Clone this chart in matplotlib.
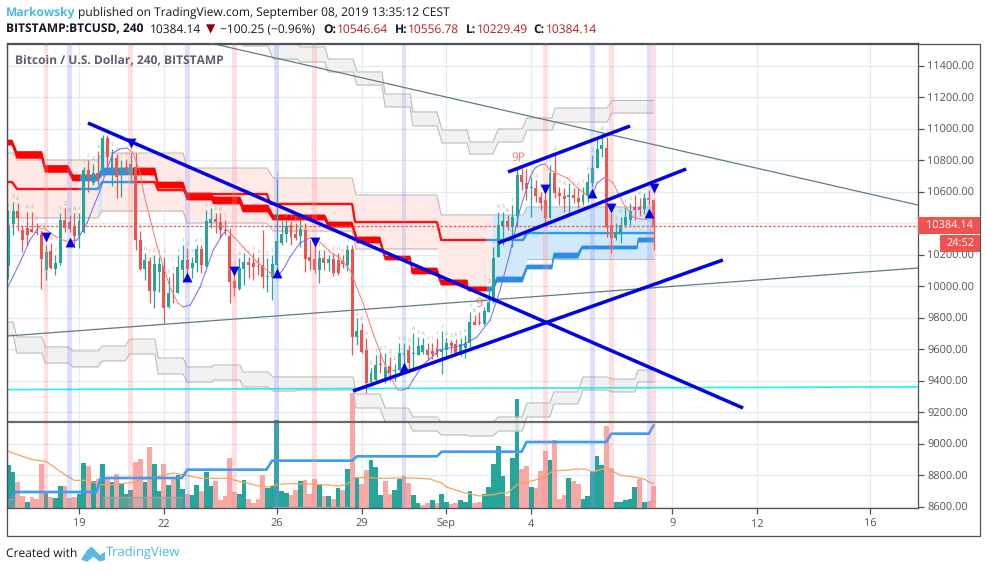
"""BTCUSD 4h TradingView snapshot redrawn with matplotlib."""

import matplotlib

matplotlib.use("Agg")
import matplotlib.pyplot as plt  # noqa: E402
import numpy as np  # noqa: E402
from matplotlib.patches import Polygon, Rectangle  # noqa: E402

WIDTH, HEIGHT = 987, 572

# candles: one 4h bar each, bar 0 is Aug 19 00:00
first_bar = -15
opens = [
    10130, 10397, 10482, 10359, 10370, 10363, 10348, 10334, 10105, 10225,
    10109, 10147, 10422, 10408, 10384, 10321, 10348, 10739, 10655, 10718,
    10718, 10940, 10739, 10813, 10707, 10760, 10707, 10760, 10295, 10109,
    10164, 9972, 10094, 10130, 9868, 9967, 9957, 10105, 10168, 10115,
    10147, 10236, 10130, 10401, 10429, 10408, 10359, 10321, 10037, 9984,
    10111, 10154, 10147, 10130, 10137, 10060, 10058, 10137, 10274, 10334,
    10391, 10334, 10321, 10359, 10190, 10175, 10105, 10181, 10152, 10175,
    10168, 10164, 10137, 10236, 9677, 9724, 9597, 9395, 9405, 9508,
    9410, 9497, 9460, 9470, 9565, 9597, 9570, 9565, 9586, 9597,
    9590, 9607, 9585, 9597, 9639, 9633, 9580, 9610, 9643, 9772,
    9775, 9762, 9840, 9904, 10190, 10385, 10416, 10380, 10448, 10708,
    10655, 10624, 10628, 10571, 10549, 10433, 10719, 10592, 10575, 10570,
    10579, 10564, 10539, 10575, 10660, 10750, 10871, 10878, 10391, 10306,
    10338, 10391, 10422, 10507, 10507, 10490, 10564, 10546,
]
highs = [
    10486, 10539, 10528, 10391, 10475, 10475, 10401, 10359, 10264, 10274,
    10200, 10465, 10497, 10454, 10465, 10465, 10760, 10800, 10780, 10860,
    10961, 10961, 10870, 10840, 10800, 10810, 10845, 10850, 10353, 10211,
    10190, 10200, 10190, 10190, 10063, 10084, 10200, 10264, 10243, 10190,
    10264, 10264, 10486, 10497, 10465, 10465, 10422, 10370, 10115, 10179,
    10211, 10190, 10211, 10190, 10359, 10179, 10200, 10680, 10422, 10422,
    10415, 10401, 10422, 10401, 10295, 10274, 10232, 10232, 10200, 10211,
    10211, 10200, 10264, 10264, 9798, 9766, 9670, 9480, 9565, 9575,
    9580, 9555, 9510, 9640, 9640, 9629, 9703, 9680, 9670, 9640,
    9640, 9670, 9716, 9670, 9660, 9665, 9670, 9690, 9840, 9820,
    9840, 9872, 9999, 10253, 10475, 10475, 10454, 10518, 10750, 10750,
    10744, 10698, 10676, 10602, 10592, 10772, 10846, 10634, 10624, 10655,
    10624, 10624, 10634, 10719, 10835, 10941, 10973, 10947, 10465, 10401,
    10444, 10507, 10528, 10581, 10560, 10592, 10613, 10557,
]
lows = [
    10046, 10327, 10350, 10221, 10264, 10348, 10327, 9982, 10041, 10109,
    10073, 10137, 10348, 10348, 10253, 10243, 10340, 10600, 10644, 10650,
    10700, 10750, 10635, 10559, 10570, 10720, 10655, 10230, 10105, 10041,
    9893, 9861, 9967, 9766, 9861, 9893, 9957, 10031, 10052, 10052,
    10094, 10084, 10126, 10370, 10338, 10306, 10325, 9893, 9940, 9978,
    10010, 10052, 10041, 10073, 9988, 9967, 9914, 10084, 10264, 10285,
    10264, 10295, 10253, 10094, 10105, 10084, 10024, 10105, 10100, 10067,
    10070, 10120, 10100, 9565, 9629, 9575, 9321, 9370, 9385, 9450,
    9385, 9400, 9400, 9470, 9470, 9449, 9460, 9565, 9570, 9533,
    9540, 9555, 9446, 9560, 9580, 9565, 9560, 9545, 9618, 9755,
    9755, 9755, 9840, 9895, 10190, 10265, 10360, 10253, 10380, 10613,
    10549, 10444, 10539, 10486, 10391, 10433, 10560, 10518, 10475, 10465,
    10528, 10497, 10518, 10539, 10634, 10750, 10825, 10317, 10211, 10295,
    10274, 10380, 10391, 10422, 10450, 10460, 10518, 10229,
]
closes = [
    10391, 10482, 10433, 10295, 10327, 10348, 10338, 10175, 10217, 10115,
    10147, 10422, 10370, 10363, 10321, 10416, 10739, 10686, 10718, 10686,
    10940, 10824, 10824, 10697, 10750, 10740, 10775, 10295, 10109, 10168,
    9972, 10143, 10143, 9866, 9957, 9963, 10122, 10168, 10109, 10152,
    10236, 10137, 10418, 10429, 10408, 10359, 10352, 10031, 9988, 10115,
    10158, 10137, 10126, 10126, 10058, 10067, 10143, 10291, 10334, 10386,
    10317, 10310, 10365, 10173, 10164, 10105, 10181, 10152, 10175, 10084,
    10084, 10145, 10232, 9677, 9720, 9586, 9389, 9453, 9500, 9502,
    9490, 9449, 9470, 9576, 9575, 9512, 9578, 9624, 9629, 9565,
    9570, 9565, 9597, 9639, 9622, 9575, 9633, 9643, 9772, 9755,
    9765, 9847, 9904, 10183, 10391, 10416, 10385, 10444, 10708, 10666,
    10619, 10634, 10575, 10528, 10433, 10719, 10592, 10575, 10554, 10581,
    10564, 10539, 10581, 10662, 10750, 10871, 10899, 10380, 10306, 10338,
    10391, 10439, 10482, 10486, 10486, 10560, 10549, 10384,
]
# volume is in arbitrary units, only the bar heights could be read
volumes = [
    130, 108, 79, 37, 19, 34, 28, 133, 47, 34,
    31, 67, 67, 31, 34, 43, 136, 127, 82, 88,
    133, 94, 79, 103, 73, 43, 55, 139, 147, 79,
    184, 133, 52, 133, 70, 88, 100, 58, 43, 40,
    70, 52, 109, 67, 82, 25, 37, 151, 49, 43,
    85, 28, 16, 28, 100, 61, 67, 265, 52, 46,
    40, 55, 82, 85, 43, 88, 73, 37, 37, 28,
    61, 55, 118, 345, 94, 73, 115, 145, 124, 40,
    82, 43, 55, 88, 97, 76, 40, 16, 10, 16,
    25, 16, 43, 19, 13, 16, 25, 19, 52, 16,
    19, 43, 64, 133, 187, 97, 37, 151, 328, 118,
    127, 64, 61, 112, 172, 145, 205, 28, 40, 91,
    82, 73, 28, 37, 112, 157, 130, 247, 121, 19,
    19, 25, 28, 64, 88, 19, 22, 67,
]
volume_sides = (
    "GGRRGRRRGR" "GGRRRGGRGR" "GRGRGGGRRG" "RGGRGRGGRG"
    "GRGGRRRRRG" "GRRRRGGGGG" "RRGRRRGRGR" "GRGRGRRGGG"
    "RRGGRRGGRR" "GRGGRRGGGR" "RGGGGGRGGR" "RGRRRGRRRG"
    "RRGGGGGRRG" "GGGGRGRR"
)
# TD count above each candle, positive green, negative red, 0 none
td_counts = [
    2, 3, 4, 5, 6, -2, -3, -4, -5, -6,
    -7, 1, 2, 3, 4, 1, 1, -2, 3, 4,
    5, -6, 7, 8, 1, -2, 1, -1, -5, -6,
    -7, -8, 1, -1, -3, -3, -4, 1, 2, 3,
    4, -1, 1, 2, 3, 4, -1, 0, -3, -4,
    1, 3, -3, 3, -1, -2, 1, 2, 0, 3,
    -1, -2, 1, -3, -4, -4, 1, -2, 1, -2,
    -3, -4, 1, -1, -2, -3, -4, -5, 1, 2,
    1, -3, 3, 1, 3, 3, 4, 5, 6, -1,
    -1, -1, 1, 2, 3, 4, 5, 6, 7, 8,
    0, 1, 3, 3, 4, 5, 6, 7, 0, 0,
    0, -2, -3, -3, 0, 1, 2, 3, 4, -1,
    -3, -3, 1, 2, 3, 3, 3, -1, -2, -3,
    -4, 1, 3, 3, 4, 5, 6, -1,
]

tick_bars = [0, 18, 42, 60, 78, 96, 126, 144, 168]
tick_labels = ["19", "22", "26", "29", "Sep", "4", "9", "12", "16"]
price_ticks = list(range(8600, 11401, 200))
last_price = 10384.14

# signal stripes and markers
sell_bars = [-7, 11, 33, 50, 99, 113, 122]
sell_prices = [10314, 10911, 10098, 10282, 10618, 10498, 10625]
buy_bars = [-2, 23, 42, 69, 109, 121]
buy_prices = [10282, 10060, 10085, 9489, 10593, 10466]

# thick cloud band, one entry per plateau
band_start = [-15.3, -13.2, -7.2, -1.3, 4.9, 16.8, 22.9, 28.5, 34.8, 41.2, 52.9,
              59, 65, 70.7, 76.9, 82.6, 88.7, 95.1, 100.8, 106.8, 118.7]
band_end = [-14.2, -7.9, -2.3, 4, 16.1, 22.1, 28.2, 34.2, 40.1, 52.2, 58,
            63.9, 70.3, 76, 82.4, 87.9, 94.1, 100.4, 105.9, 118.5, 122]
band_high = [10930, 10856, 10767, 10708, 10752, 10663, 10593, 10568, 10517, 10454, 10409,
             10314, 10193, 10117, 10041, 9997, 10060, 10136, 10212, 10257, 10308]
band_low = [10898, 10814, 10725, 10670, 10708, 10625, 10549, 10524, 10473, 10422, 10377,
            10276, 10168, 10079, 10009, 9971, 10028, 10111, 10180, 10238, 10282]

# base line
base_start = [-15.3, -13.2, 4.9, 16.8, 22.9, 40.6, 58.6, 76.9, 95.1]
base_end = [-14.2, 4, 16.1, 22.1, 39.9, 58, 76, 94.3, 122]
base_level = [10663, 10619, 10663, 10612, 10587, 10524, 10409, 10295, 10339]

# cloud outline around the thick band
cloud_start = [-15.3, -13.2, 4.9, 22.9, 41.2, 58.8, 76.9, 88.7, 95.1]
cloud_end = [-14, 4, 22.1, 39.9, 58, 76, 87.9, 94.3, 122]
cloud_top = [10847, 10803, 10847, 10752, 10689, 10581, 10454, 10454, 10505]
cloud_bottom = [10435, 10435, 10479, 10403, 10352, 10238, 9990, 10028, 10174]

# grey bands
upper_start = [34.8, 41.2, 46.9, 52.9, 59, 65, 70.9, 77.1, 83, 89, 95.1, 101.1, 113.2]
upper_end = [40.1, 46.3, 52.2, 58.2, 64.3, 70.3, 76, 82.4, 87.9, 94.1, 100.4, 112.1, 122]
upper_top = [11560, 11560, 11521, 11444, 11362, 11222, 11108, 10993, 10917, 11000, 11070, 11133, 11181]
upper_bottom = [11527, 11444, 11425, 11362, 11279, 11140, 11019, 10911, 10841, 10917, 10993, 11044, 11101]

lower_start = [-15.3, -13.2, -7.2, -1.3, 4.9, 10.8, 16.8, 22.9, 28.5, 34.8, 41.2, 46.5,
               58.8, 65, 70.9, 76.9, 82.6, 89, 95.1, 100.8, 107, 113.2, 118.7]
lower_end = [-14, -7.9, -2.3, 4, 9.8, 16.1, 22.1, 28.2, 34.2, 40.1, 45.9, 58.2,
             63.9, 69.9, 76, 82.4, 87.9, 94.1, 100, 105.9, 112.1, 118, 122]
lower_top = [9774, 9679, 9616, 9590, 9622, 9666, 9546, 9489, 9501, 9457, 9425, 9425,
             9317, 9228, 9171, 9139, 9139, 9171, 9260, 9330, 9425, 9412, 9469]
lower_bottom = [9692, 9577, 9514, 9489, 9527, 9571, 9444, 9393, 9406, 9362, 9336, 9342,
                9228, 9139, 9082, 9057, 9050, 9082, 9171, 9254, 9342, 9330, 9393]

floor_start = [-15.3, 4.9, 41.2]
floor_end = [-13.5, 22, 58]
floor_top = [8650, 8663, 8600]

# thin moving average
ma_bars = [
    -15.1, -12.5, -10.4, -8.7, -7.2, -5.1, -3, -1.9, -0.4, 1.7, 4.5, 5.5, 7.2, 8.7, 10.2,
    11.5, 13, 13.6, 15.1, 16.6, 19.3, 21, 22.1, 23.6, 25.7, 28.5, 30.4, 31.4, 33.1, 34.8,
    37.8, 40.6, 42, 43.3, 44.8, 46.9, 49, 50.7, 53.3, 55.4, 57.5, 60.3, 62.4, 65.6, 67.7,
    68.6, 69.9, 70.9, 73, 76.6, 81.5, 84.5, 87.3, 89.4, 91.5, 93.6, 95.8, 96.8, 97.9, 98.9,
    100, 103.6, 106.4, 108.1, 109, 110, 111.7, 113.4, 115.5, 117.6, 119.1, 120.6,
]
ma_prices = [
    9996, 10155, 10295, 10371, 10365, 10320, 10289, 10286, 10295, 10403, 10612, 10708, 10847, 10873, 10879,
    10847, 10720, 10612, 10428, 10251, 9996, 9895, 9870, 9882, 9996, 10231, 10327, 10359, 10308, 10251,
    10155, 10085, 10060, 10105, 10187, 10276, 10308, 10295, 10219, 10181, 10105, 9895, 9704, 9450, 9342,
    9341, 9355, 9406, 9501, 9597, 9628, 9679, 9787, 9977, 10212, 10485, 10695, 10752, 10771, 10778,
    10739, 10689, 10612, 10574, 10581, 10657, 10695, 10657, 10530, 10441, 10428, 10425,
]

# volume overlays
vol_ma_bars = [
    -15, -13, -10, -7, -5, -3, -1, 2, 4.5, 7, 11.5, 14, 17, 20, 23, 26, 31.5, 34, 38, 40, 42,
    44, 48.5, 53, 55, 57, 58.3, 61, 64, 68, 71, 74.5, 77, 78, 81.5, 85, 88, 89.5, 91, 93, 96,
    98.5, 100.7, 103.5, 105.7, 107.5, 109, 112, 115, 118, 120, 121.5, 122,
]
vol_ma = [
    170, 160, 145, 140, 120, 100, 83, 83, 70, 70, 77, 87, 95, 105, 97, 89, 89, 80, 67, 63, 70,
    73, 72, 69, 66, 72, 90, 92, 89, 90, 90, 87, 75, 63, 47, 36, 40, 45, 45, 70, 81,
    90, 112, 113, 117, 117, 108, 120, 98, 93, 87, 74, 74,
]
vol_step_bars = [-15, -13.5, 3.7, 4.6, 21.8, 23, 39.8, 41, 58, 59, 76, 77, 94, 95, 112, 113, 121, 122]
vol_step = [15, 48, 48, 90, 90, 115, 115, 142, 142, 155, 155, 169, 169, 198, 198, 223, 223, 248]

# hand drawn lines as (bar, price) end points
trend_bars = [(1.9, 141), (58.2, 136.7), (89, 128.9), (91.1, 117)]
trend_prices = [(11038, 9228), (9336, 10168), (10276, 10746), (10727, 11019)]
thin_bars = [(27.8, 178.1), (-15.3, 178.1)]
thin_prices = [(11546, 10517), (9685, 10117)]
cyan_prices = (9345, 9362)
dark_level = 9139

GREEN = "#26a69a"
RED = "#ef5350"
TEXT = "#50535e"
FRAME = "#4c505b"
LINK = "#4db5e8"
FONT = "Open Sans"
X_RANGE = (-15.29, 178.13)
Y_RANGE = (8593, 11546)

plt.rcParams["font.family"] = [FONT, "DejaVu Sans"]
plt.rcParams["text.hinting"] = "no_hinting"
plt.rcParams["text.hinting_factor"] = 1


def plateaus(start, end, *levels):
    # turn plateau lists into line vertices joined by short ramps
    xs = np.column_stack([start, end]).ravel()
    return (xs, *[np.repeat(level, 2) for level in levels])


def draw_band(axis, start, end, top, bottom, fill="#efefef", edge="#bcbcbc", z=2.0):
    xs, top_y, bottom_y = plateaus(start, end, top, bottom)
    axis.fill_between(xs, bottom_y, top_y, color=fill, alpha=0.85, lw=0, zorder=z)
    axis.plot(xs, top_y, color=edge, lw=0.8, zorder=z)
    axis.plot(xs, bottom_y, color=edge, lw=0.8, zorder=z)


def px_text(fig, x, y, text, **kwargs):
    kwargs.setdefault("va", "center")
    kwargs.setdefault("fontsize", 8.9)
    kwargs.setdefault("color", "#131722")
    return fig.text(x / WIDTH, 1 - y / HEIGHT, text, **kwargs)


def px_rect(fig, x0, y0, x1, y1, **kwargs):
    rect = Rectangle(
        (x0 / WIDTH, 1 - y1 / HEIGHT),
        (x1 - x0) / WIDTH,
        (y1 - y0) / HEIGHT,
        transform=fig.transFigure,
        **kwargs,
    )
    fig.add_artist(rect)
    return rect


bars = np.arange(first_bar, first_bar + len(opens))
o, h, l, c = map(np.asarray, (opens, highs, lows, closes))
candle_colors = np.where(c >= o, GREEN, RED)

fig = plt.figure(figsize=(WIDTH / 100, HEIGHT / 100), dpi=100, facecolor="white")
chart_box = [7 / WIDTH, 1 - 508 / HEIGHT, 911 / WIDTH, 465 / HEIGHT]

# grid goes on its own axes so it stays under the volume bars
ax_grid = fig.add_axes(chart_box)
ax_grid.set_zorder(-2)
ax_grid.set_xlim(*X_RANGE)
ax_grid.set_ylim(*Y_RANGE)
ax_grid.set_xticks(tick_bars)
ax_grid.set_yticks(price_ticks)
ax_grid.tick_params(length=0, labelbottom=False, labelleft=False)
ax_grid.grid(color="#e3ecf3", lw=1)
ax_grid.spines[:].set_visible(False)

ax = fig.add_axes(chart_box)
ax_vol = ax.twinx()
ax_vol.set_zorder(-1)
ax.set_zorder(1)
ax.patch.set_visible(False)
ax_vol.patch.set_visible(False)

# volume pane shares the lower part of the chart
vol_colors = [GREEN if side == "G" else "#f9a7a5" for side in volume_sides]
ax_vol.bar(bars, volumes, width=1.0, color=vol_colors, lw=0, zorder=2)
ax_vol.plot(vol_ma_bars, vol_ma, color="#f7a35c", lw=0.9, zorder=3)
ax_vol.plot(vol_step_bars, vol_step, color="#3d9bf0", lw=1.9, zorder=3)
ax_vol.set_ylim(0, 1395)
ax_vol.set_yticks([])
ax_vol.spines[:].set_visible(False)

ax.set_xlim(*X_RANGE)
ax.set_ylim(*Y_RANGE)
ax.set_xticks(tick_bars, tick_labels)
# the 10400 label sits behind the last price box
ax.set_yticks(price_ticks, ["" if p == 10400 else f"{p:.2f}" for p in price_ticks])
ax.yaxis.tick_right()
ax.tick_params(colors=TEXT, labelsize=7.7, length=4, width=0.9, color=FRAME, pad=2.5)
ax.tick_params(axis="x", labelsize=8.2, pad=3.5)
for spine in ax.spines.values():
    spine.set_color(FRAME)
    spine.set_linewidth(0.9)

# filled cloud, pink while falling and blue while rising
xs, top_y, bottom_y = plateaus(cloud_start, cloud_end, cloud_top, cloud_bottom)
blue_part = ((xs >= 0.2) & (xs <= 11.4)) | (xs >= 87.9)
ax.fill_between(xs, bottom_y, top_y, color="#fee9e7", lw=0, zorder=1.2)
ax.fill_between(xs, bottom_y, top_y, where=blue_part, color="#d2e8fb", lw=0, zorder=1.3)
ax.plot(xs, top_y, color="#bdbdbd", lw=0.8, zorder=1.4)
ax.plot(xs[:-6], bottom_y[:-6], color="#bdbdbd", lw=0.8, zorder=1.4)
ax.plot(xs[-2:], bottom_y[-2:], color="#bdbdbd", lw=0.8, zorder=1.4)

draw_band(ax, upper_start, upper_end, upper_top, upper_bottom)
draw_band(ax, lower_start, lower_end, lower_top, lower_bottom)
for start, end, top in zip(floor_start, floor_end, floor_top):
    ax.fill_between([start, end], Y_RANGE[0], top, color="#9e9e9e", alpha=0.35, lw=0, zorder=3)
    ax.plot([start, end], [top, top], color="#9e9e9e", lw=0.9, zorder=3)

# thick band and base line change colour with the trend
fine = np.linspace(-15.3, 122, 1100)
band_x, band_hi, band_lo = plateaus(band_start, band_end, band_high, band_low)
base_x, base_y = plateaus(base_start, base_end, base_level)
hi_line = np.interp(fine, band_x, band_hi)
lo_line = np.interp(fine, band_x, band_lo)
base_line = np.interp(fine, base_x, base_y)
is_blue = ((fine >= 0.2) & (fine <= 11.4)) | (fine >= 86.6)
ax.fill_between(fine, lo_line, hi_line, where=~is_blue, color="#ff0000", lw=0.6, zorder=4)
ax.fill_between(fine, lo_line, hi_line, where=is_blue, color="#2a8de6", lw=0.6, zorder=4)
ax.plot(np.where(is_blue, np.nan, fine), base_line, color="#ff1010", lw=1.7, zorder=4)
ax.plot(np.where(is_blue, fine, np.nan), base_line, color="#2e9bf2", lw=1.7, zorder=4)

# candles
ax.vlines(bars, l, h, colors=candle_colors, lw=0.9, zorder=5)
ax.bar(bars, np.abs(c - o), bottom=np.minimum(o, c), width=0.62, color=candle_colors, lw=0, zorder=5)

for bar, high, count in zip(bars, h, td_counts):
    if count:
        ax.annotate(
            str(abs(count)),
            (bar, high),
            xytext=(0, 1.5),
            textcoords="offset points",
            ha="center",
            va="bottom",
            fontsize=3.8,
            color="#7cb87c" if count > 0 else "#f28b82",
            zorder=5,
        )
ax.text(85, 9895, "9", color="#f07a7a", fontsize=9, ha="center", va="center", zorder=5)
ax.text(93.4, 10816, "9P", color="#f07a7a", fontsize=8.5, ha="center", va="center", zorder=5)

# thin average, blue on the way up and red on the way down
for k in range(len(ma_bars) - 1):
    rising = ma_prices[k + 1] >= ma_prices[k]
    ax.plot(
        ma_bars[k : k + 2],
        ma_prices[k : k + 2],
        color="#6a6af5" if rising else "#f57a75",
        lw=0.7,
        zorder=6,
    )

# stripes sit over the candles and volume
for bar in sell_bars:
    ax.axvspan(bar - 0.5, bar + 0.5, color="#ff8a8a", alpha=0.26, lw=0, zorder=7)
for bar in buy_bars:
    ax.axvspan(bar - 0.5, bar + 0.5, color="#8a8af5", alpha=0.26, lw=0, zorder=7)

ax.scatter(sell_bars, sell_prices, marker="v", s=50, color="#0000e6", lw=0, zorder=8)
ax.scatter(buy_bars, buy_prices, marker="^", s=50, color="#0000e6", lw=0, zorder=8)

ax.axhline(last_price, color=RED, lw=0.9, ls=(0, (2, 1.5)), zorder=8)
ax.plot(X_RANGE, cyan_prices, color="#1ff0f0", lw=1.2, zorder=3)
ax.axhline(dark_level, color="#5a5a5a", lw=1.6, zorder=8, alpha=0.9)
for xpair, ypair in zip(thin_bars, thin_prices):
    ax.plot(xpair, ypair, color="#607d85", lw=0.9, zorder=9)
for xpair, ypair in zip(trend_bars, trend_prices):
    ax.plot(xpair, ypair, color="#0000e6", lw=2.5, solid_capstyle="butt", zorder=10)

# frame around the chart and its scales
px_rect(fig, 6.5, 43.5, 980.5, 535.5, fill=False, edgecolor=FRAME, lw=0.9, zorder=20)

# price labels on the scale
px_rect(fig, 918, 217, 980, 233.5, facecolor=RED, lw=0, zorder=21)
px_rect(fig, 940, 235, 980, 252, facecolor=RED, lw=0, zorder=21)
px_text(fig, 949.5, 225.5, "10384.14", color="white", fontsize=7.7, ha="center", zorder=22)
px_text(fig, 960, 243.5, "24:52", color="white", fontsize=7.7, ha="center", zorder=22)

px_text(fig, 15, 60, "Bitcoin / U.S. Dollar, 240, BITSTAMP", color="#5d606b", fontsize=8.75, fontweight="bold")

# header
px_text(fig, 6, 12.5, "Markowsky", color=LINK, fontweight="bold", fontsize=8.7)
px_text(fig, 78, 12.5, "published on TradingView.com, September 08, 2019 13:35:12 CEST", fontsize=8.95)
px_text(fig, 6, 29.5, "BITSTAMP:BTCUSD, 240", fontweight="bold", fontsize=8.8)
px_text(fig, 150, 29.5, "10384.14")
px_text(fig, 206, 29.5, "▼", color="#8b0000", fontsize=8.5, family="DejaVu Sans")
px_text(fig, 220, 29.5, "−100.25 (−0.96%)")
for x_name, name, x_value, value in (
    (323, "O:", 337, "10546.64"),
    (395, "H:", 408, "10556.78"),
    (466, "L:", 477, "10229.49"),
    (533, "C:", 546, "10384.14"),
):
    px_text(fig, x_name, 29.5, name, fontweight="bold", fontsize=8.8)
    px_text(fig, x_value, 29.5, value, color="#b71c1c")

# footer
px_text(fig, 6, 554, "Created with", fontsize=8.7)
logo_x = [81.7, 87.3, 91.7, 100, 105, 105, 100, 93.3, 87.3, 81.7]
logo_y = [558.3, 550, 546.7, 555, 551.7, 560, 561.7, 556.7, 561.7, 560]
logo_xy = np.column_stack([np.array(logo_x) / WIDTH, 1 - np.array(logo_y) / HEIGHT])
fig.add_artist(Polygon(logo_xy, closed=True, transform=fig.transFigure, facecolor="#5bb8e6", lw=0))
px_text(fig, 106, 554, "TradingView", color=LINK, fontsize=9.3)

fig.savefig("out.png", dpi=100, facecolor="white")
